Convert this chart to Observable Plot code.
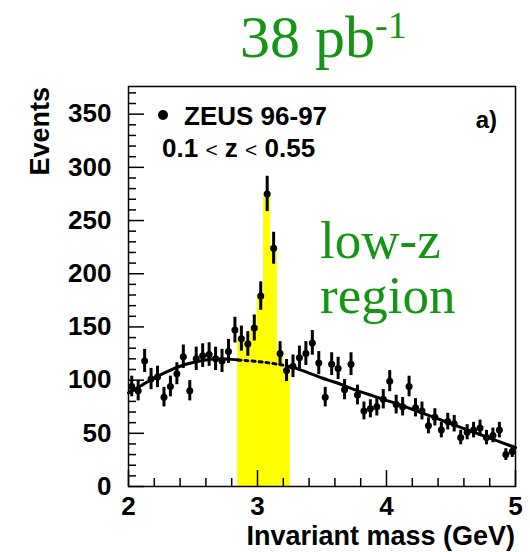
<!DOCTYPE html>
<html><head><meta charset="utf-8">
<script src="https://cdn.jsdelivr.net/npm/d3@7"></script>
<script src="https://cdn.jsdelivr.net/npm/@observablehq/plot@0.6"></script>
<style>html,body{margin:0;padding:0;background:#fff}svg{display:block}</style>
</head><body><div id="chart"></div>
<script>
// Bin centres (GeV), events per 50 MeV bin, and statistical errors
const mass = [2.025,2.075,2.125,2.175,2.225,2.275,2.325,2.375,2.425,2.475,
  2.525,2.575,2.625,2.675,2.725,2.775,2.825,2.875,2.925,2.975,
  3.025,3.075,3.125,3.175,3.225,3.275,3.325,3.375,3.425,3.475,
  3.525,3.575,3.625,3.675,3.725,3.775,3.825,3.875,3.925,3.975,
  4.025,4.075,4.125,4.175,4.225,4.275,4.325,4.375,4.425,4.475,
  4.525,4.575,4.625,4.675,4.725,4.775,4.825,4.875,4.925,4.975];
const events = [94,90,118,101,103,84,94,106,122,90,
  120,123,124,120,118,127,147,139,134,149,
  179,275,224,125,109,113,121,125,135,116,
  84,115,111,91,115,86,71,73,75,82,
  99,77,75,94,74,71,57,65,53,61,
  59,46,51,53,55,46,48,53,30,33];
const errors = [9.7,9.5,10.9,10.0,10.1,9.2,9.7,10.3,11.0,9.5,
  11.0,11.1,11.1,11.0,10.9,11.3,12.1,11.8,11.6,12.2,
  13.4,16.6,15.0,11.2,10.4,10.6,11.0,11.2,11.6,10.8,
  9.2,10.7,10.5,9.5,10.7,9.3,8.4,8.5,8.7,9.1,
  9.9,8.8,8.7,9.7,8.6,8.4,7.5,8.1,7.3,7.8,
  7.7,6.8,7.1,7.3,7.4,6.8,6.9,7.3,5.5,5.7];
const binWidth = 0.05;
// Background fit curve
const fitMass = [2.0,2.1,2.2,2.3,2.4,2.5,2.6,2.7,2.8,2.85,2.9,3.0,3.1,3.2,3.25,3.3,3.4,3.5,3.6,3.7,3.8,3.9,4.0,4.1,4.2,4.3,4.4,4.5,4.6,4.7,4.8,4.9,5.0];
const fitEvents = [88,95,102,108,113,116.5,119,120,119.5,119,118.5,117.5,116,114,112.5,111,106.5,102,98,93.5,89,85,81,77,72.5,68,63.5,59,54.5,50,45.5,41,36.5];
// Signal window
const signalLow = 2.85, signalHigh = 3.25;
// Axes
const xDomain = [2, 5], yDomain = [0, 376];
const xMajor = [2, 3, 4, 5];
const xMinor = [2.2, 2.4, 2.6, 2.8, 3.2, 3.4, 3.6, 3.8, 4.2, 4.4, 4.6, 4.8];
const yMajor = [0, 50, 100, 150, 200, 250, 300, 350];
const yMinor = [10,20,30,40,60,70,80,90,110,120,130,140,160,170,180,190,210,220,230,240,260,270,280,290,310,320,330,340,360,370];
const xTitle = "Invariant mass (GeV)", yTitle = "Events";
const legendLabel = "ZEUS 96-97";
const green = "#149614";

const data = mass.map((m, i) => ({m, n: events[i], e: errors[i]}));
const hist = data.filter(d => d.m > signalLow && d.m < signalHigh);
const fit = fitMass.map((m, i) => ({m, n: fitEvents[i]}));
const fitLeft = fit.filter(d => d.m <= signalLow);
const fitMid = fit.filter(d => d.m >= signalLow && d.m <= signalHigh);
const fitRight = fit.filter(d => d.m >= signalHigh);

const bold = {fontWeight: "bold", fontSize: 26};
const chart = Plot.plot({
  width: 530, height: 552,
  marginLeft: 128, marginRight: 15, marginTop: 86, marginBottom: 66,
  x: {domain: xDomain}, y: {domain: yDomain},
  style: {fontFamily: "'Liberation Sans', Arial, sans-serif", background: "white", color: "black"},
  marks: [
    Plot.rectY(hist, {x1: d => d.m - binWidth / 2, x2: d => d.m + binWidth / 2, y1: 0, y2: "n", fill: "#ffff00", stroke: "#ffff00", strokeWidth: 0.8}),
    Plot.line(fitLeft, {x: "m", y: "n", stroke: "black", strokeWidth: 3, curve: "natural"}),
    Plot.line(fitMid, {x: "m", y: "n", stroke: "black", strokeWidth: 3, strokeDasharray: "3,4", curve: "natural"}),
    Plot.line(fitRight, {x: "m", y: "n", stroke: "black", strokeWidth: 3, curve: "natural"}),
    Plot.ruleX(data, {x: "m", y1: d => d.n - d.e, y2: d => d.n + d.e, stroke: "black", strokeWidth: 3}),
    Plot.dot(data, {x: "m", y: "n", r: 3.5, fill: "black", stroke: "none"}),
    Plot.ruleY(yMajor, {y: d => d, x1: xDomain[0], x2: xDomain[0], insetRight: -16, stroke: "black", strokeWidth: 1.5}),
    Plot.ruleY(yMinor, {y: d => d, x1: xDomain[0], x2: xDomain[0], insetRight: -8, stroke: "black", strokeWidth: 1.5}),
    Plot.ruleX(xMajor, {x: d => d, y1: yDomain[0], y2: yDomain[0], insetBottom: 16, stroke: "black", strokeWidth: 1.5}),
    Plot.ruleX(xMinor, {x: d => d, y1: yDomain[0], y2: yDomain[0], insetBottom: 8, stroke: "black", strokeWidth: 1.5}),
    Plot.frame({stroke: "black", strokeWidth: 1.5}),
    Plot.axisY(yMajor, {tickSize: 0, tickPadding: 17, label: null, tickFormat: d3.format("d"), ...bold}),
    Plot.axisX(xMajor, {tickSize: 0, tickPadding: 10, label: null, tickFormat: d3.format("d"), ...bold})
  ]
});
document.getElementById("chart").appendChild(chart);

const svg = d3.select(chart);
const sans = "'Liberation Sans', Arial, sans-serif";
const serif = "'Liberation Serif', 'Times New Roman', serif";
const txt = (x, y, anchor) => svg.append("text").attr("x", x).attr("y", y).attr("text-anchor", anchor);
svg.append("text").attr("transform", "translate(49,87) rotate(-90)").attr("text-anchor", "end")
  .attr("font-family", sans).attr("font-weight", "bold").attr("font-size", 27).text(yTitle);
txt(515, 545, "end").attr("font-family", sans).attr("font-weight", "bold").attr("font-size", 27).text(xTitle);
// legend
svg.append("circle").attr("cx", 163).attr("cy", 115).attr("r", 5).attr("fill", "black");
txt(184, 125, "start").attr("font-family", sans).attr("font-weight", "bold").attr("font-size", 26).text(legendLabel);
const zt = txt(162, 157, "start").attr("font-family", sans).attr("font-weight", "bold").attr("font-size", 26);
zt.append("tspan").text("0.1 ");
zt.append("tspan").attr("font-size", 21).attr("font-weight", "normal").text("<");
zt.append("tspan").text(" z ");
zt.append("tspan").attr("font-size", 21).attr("font-weight", "normal").text("<");
zt.append("tspan").text(" 0.55");
txt(497, 128, "end").attr("font-family", sans).attr("font-weight", "bold").attr("font-size", 24).text("a)");
// green annotations
const lt = txt(240, 57, "start").attr("font-family", serif).attr("font-size", 60).attr("fill", green);
lt.append("tspan").text("38 pb");
lt.append("tspan").attr("font-size", 38).attr("dy", -19).text("-1");
txt(320, 258, "start").attr("font-family", serif).attr("font-size", 53).attr("fill", green).text("low-z");
txt(320, 313, "start").attr("font-family", serif).attr("font-size", 53).attr("fill", green).text("region");
</script>
</body></html>
